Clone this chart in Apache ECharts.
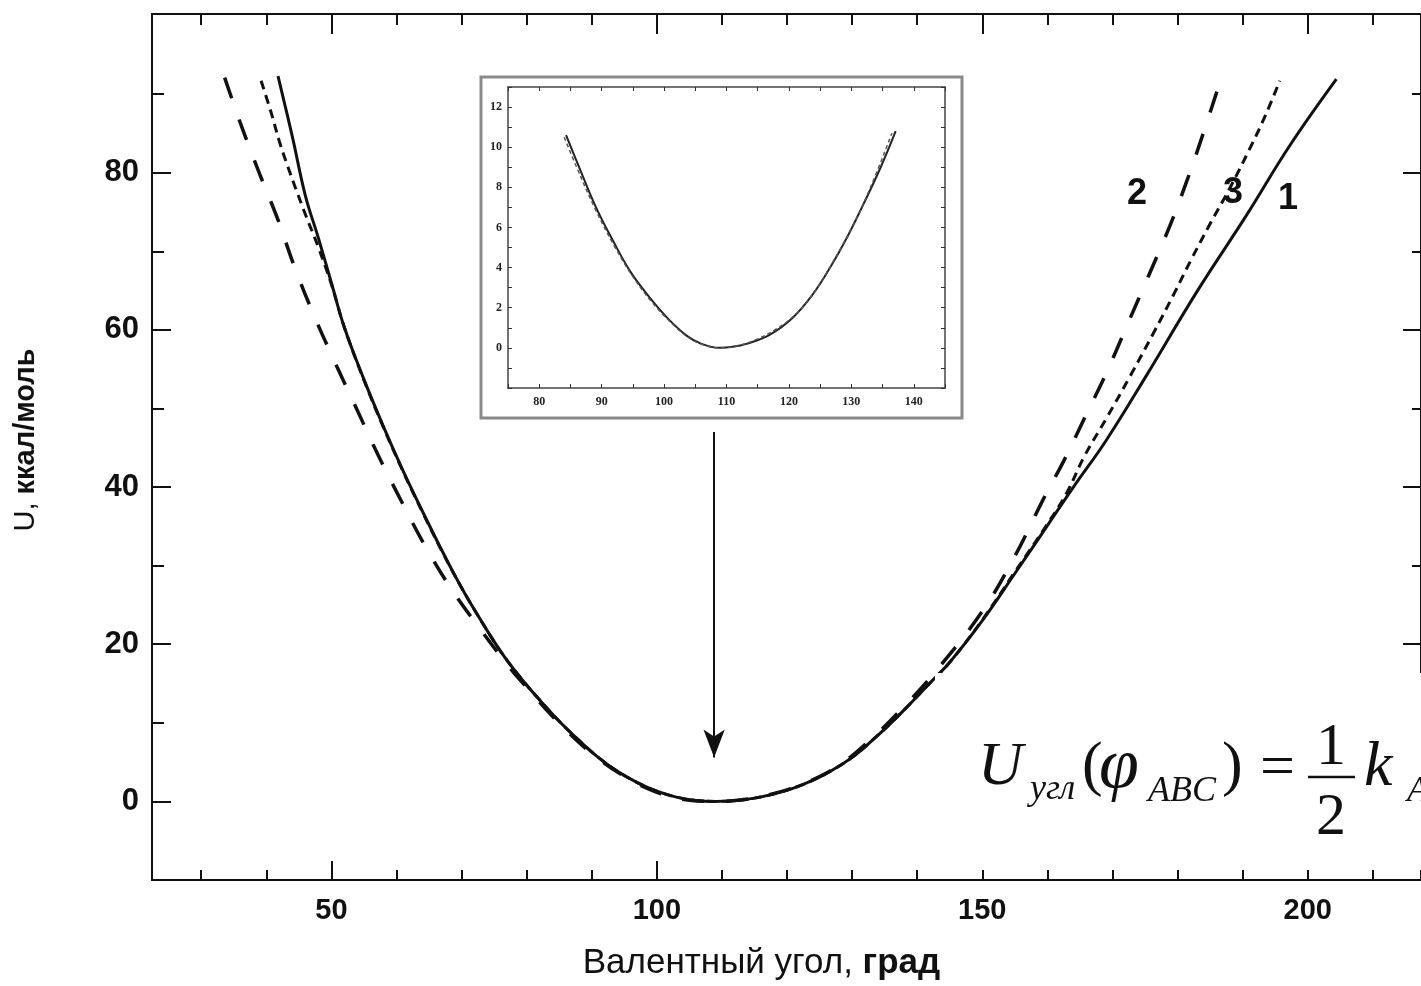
<!DOCTYPE html>
<html>
<head>
<meta charset="utf-8">
<script src="https://cdn.jsdelivr.net/npm/echarts@6/dist/echarts.min.js"></script>
<style>
html,body{margin:0;padding:0;background:#fff;width:1421px;height:986px;overflow:hidden;}
#chart{width:1421px;height:986px;display:block;overflow:hidden;}
</style>
</head>
<body>
<div id="chart"></div>
<script>
// ---- main chart data: valence angle (deg) vs U (kcal/mol) ----
const angles1 = [41.8, 44, 46, 48, 50, 52, 55, 58, 61, 64, 67, 70, 73, 76, 79, 82, 85, 88, 91, 94, 97, 100, 103, 106, 109, 112, 115, 118, 121, 124, 127, 130, 133, 136, 139, 142, 145, 150, 155, 160, 164, 169, 175, 183, 190.6, 197.2, 204.4];
const u1 = [92.3, 84.6, 77.1, 71.7, 66.0, 60.3, 53.7, 47.7, 42.1, 36.9, 31.9, 27.2, 23.0, 19.1, 15.8, 12.9, 10.2, 7.8, 5.6, 3.8, 2.4, 1.3, 0.55, 0.12, 0.0, 0.1, 0.42, 0.96, 1.7, 2.7, 4.0, 5.6, 7.7, 10.0, 12.5, 15.1, 17.7, 23.0, 29.0, 35.1, 40.0, 45.9, 53.9, 64.9, 74.6, 83.4, 91.9];

const angles2 = [33.6, 36.2, 39.0, 41.8, 44.3, 47.4, 50.7, 53.8, 57.1, 60.7, 64.2, 68.3, 72.7, 77.5, 80, 83, 86, 90, 95, 100, 105, 109, 113, 118, 123, 128, 133, 138, 143, 150, 155, 159.4, 162.5, 165.6, 169.1, 172.2, 175.5, 178.8, 181.4, 183.7, 186.5];
const u2 = [92.1, 85.9, 79.8, 74.0, 68.1, 61.7, 55.6, 50.1, 44.2, 38.3, 32.8, 27.2, 22.1, 16.9, 14.5, 11.7, 9.1, 6.1, 3.2, 1.16, 0.15, 0.0, 0.2, 1.0, 2.4, 4.6, 8.0, 12.1, 16.7, 24.2, 31.2, 38.5, 43.3, 48.6, 54.6, 60.5, 66.8, 73.2, 78.9, 84.4, 91.5];

const angles3 = [39.2, 40.8, 42.0, 43.3, 44.6, 46.1, 48, 50, 52, 55, 58, 61, 64, 67, 70, 73, 76, 79, 82, 85, 88, 91, 94, 97, 100, 103, 106, 109, 112, 115, 118, 121, 124, 127, 130, 133, 136, 139, 142, 145, 150, 155, 160, 163, 165.6, 169.1, 172.7, 176.3, 179.4, 182, 185, 188, 191, 193.5, 195.7];
const u3 = [91.7, 87.5, 84.0, 80.8, 77.8, 74.5, 70.5, 65.8, 60.3, 53.6, 47.6, 42.0, 36.8, 31.8, 27.2, 23.0, 19.1, 15.8, 12.9, 10.2, 7.8, 5.6, 3.8, 2.4, 1.3, 0.55, 0.12, 0.0, 0.1, 0.42, 0.96, 1.7, 2.7, 4.0, 5.6, 7.7, 10.0, 12.5, 15.1, 17.7, 23.1, 29.2, 35.3, 39.3, 43.8, 48.8, 54.1, 59.6, 64.5, 68.8, 73.5, 78.0, 82.9, 87.3, 91.7];

// ---- inset data ----
const insetAngles1 = [84.3, 86.4, 89.1, 91.8, 94.5, 97.2, 100.4, 103.6, 106, 108.9, 111, 113.2, 116.9, 120.7, 123.9, 126.6, 129.3, 132.0, 134.7, 137.1];
const insetU1 = [10.6, 9.0, 7.0, 5.35, 3.85, 2.7, 1.53, 0.61, 0.2, 0.0, 0.05, 0.2, 0.65, 1.53, 2.7, 4.0, 5.5, 7.2, 9.0, 10.8];
const insetAngles2 = [84.0, 86.0, 89, 92, 95, 98, 101, 104, 107, 109, 112, 115, 118, 121, 124, 127, 130, 133, 136.5];
const insetU2 = [10.5, 9.0, 6.9, 5.1, 3.55, 2.3, 1.3, 0.5, 0.08, 0.0, 0.12, 0.45, 0.95, 1.65, 2.75, 4.25, 5.95, 7.95, 10.7];

// ---- ticks ----
const xMajor = [50, 100, 150, 200];
const xMinor = [30, 40, 60, 70, 80, 90, 110, 120, 130, 140, 160, 170, 180, 190, 210];
const yMajor = [0, 20, 40, 60, 80];
const yMinor = [10, 30, 50, 70, 90];
const curveLabels = ['1', '2', '3'];

const XMIN = 22.44, XMAX = 217.4, YMIN = -10, YMAX = 100.2;

function pairs(xs, ys){ return xs.map((x,i)=>[x, ys[i]]); }

const C = '#111';
const axLine = {show:true, onZero:false, lineStyle:{color:C, width:2}};
function xAx(pos, vals, len, labels, extra){
  return Object.assign({
    type:'value', gridIndex:0, position:pos, min:XMIN, max:XMAX,
    axisLine: axLine,
    axisTick:{show:true, inside:true, length:len, customValues:vals, lineStyle:{color:C, width:2}},
    axisLabel: labels ? {show:true, customValues:vals, fontSize:29, fontWeight:'bold', color:C, margin:16, fontFamily:'Liberation Sans'} : {show:false},
    splitLine:{show:false}
  }, extra||{});
}
function yAx(pos, vals, len, labels, extra){
  return Object.assign({
    type:'value', gridIndex:0, position:pos, min:YMIN, max:YMAX,
    axisLine: axLine,
    axisTick:{show:true, inside:true, length:len, customValues:vals, lineStyle:{color:C, width:2}},
    axisLabel: labels ? {show:true, customValues:vals, fontSize:31, fontWeight:'bold', color:C, margin:13, fontFamily:'Liberation Sans'} : {show:false},
    splitLine:{show:false}
  }, extra||{});
}
const insetTick = {show:true, inside:true, length:4, lineStyle:{color:'#333', width:1}};
const insetLine = {show:true, onZero:false, lineStyle:{color:'#444', width:1.5}};
const insetLbl = {fontFamily:'Liberation Serif', fontWeight:'bold', fontSize:12, color:'#222'};

const option = {
  animation:false,
  backgroundColor:'#fff',
  grid:[
    {left:152, top:14, width:1273, height:870},
    {left:508, top:87, width:437, height:301}
  ],
  xAxis:[
    xAx('bottom', xMajor, 19, true, {
      name:'{a|Валентный угол, }{b|град}', nameLocation:'middle', nameGap:66,
      nameTextStyle:{padding:[0,50,0,0], rich:{a:{fontSize:35, fontFamily:'Liberation Sans', color:C}, b:{fontSize:35, fontFamily:'Liberation Sans', fontWeight:'bold', color:C}}}
    }),
    xAx('bottom', xMinor, 10, false),
    xAx('top', xMajor, 20, false),
    xAx('top', xMinor, 11, false),
    {type:'value', gridIndex:1, position:'bottom', min:75, max:145, interval:5,
     axisLine:insetLine, axisTick:insetTick, splitLine:{show:false},
     axisLabel:Object.assign({margin:8, formatter:v=> v%10===0 && v>=80 && v<=140 ? String(v) : ''}, insetLbl)},
    {type:'value', gridIndex:1, position:'top', min:75, max:145, interval:5,
     axisLine:insetLine, axisTick:insetTick, splitLine:{show:false}, axisLabel:{show:false}}
  ],
  yAxis:[
    yAx('left', yMajor, 19, true, {
      name:'{a|U, }{b|ккал/моль}', nameLocation:'middle', nameGap:112, nameRotate:90,
      nameTextStyle:{padding:[0,0,0,14], rich:{a:{fontSize:29, fontFamily:'Liberation Sans', color:C}, b:{fontSize:29, fontFamily:'Liberation Sans', fontWeight:'bold', color:C}}}
    }),
    yAx('left', yMinor, 12, false),
    yAx('right', yMajor, 18, false),
    yAx('right', yMinor, 9, false),
    {type:'value', gridIndex:1, position:'left', min:-2, max:13, interval:1,
     axisLine:insetLine, axisTick:insetTick, splitLine:{show:false},
     axisLabel:Object.assign({margin:6, formatter:v=> (v>=0 && v%2===0) ? String(v) : ''}, insetLbl)},
    {type:'value', gridIndex:1, position:'right', min:-2, max:13, interval:1,
     axisLine:insetLine, axisTick:insetTick, splitLine:{show:false}, axisLabel:{show:false}}
  ],
  series:[
    {name:curveLabels[0], type:'line', xAxisIndex:0, yAxisIndex:0, data:pairs(angles1,u1), showSymbol:false, smooth:0.4,
     lineStyle:{color:C, width:3, type:'solid'},
     markLine:{silent:true, symbol:['none','arrow'], symbolSize:[16,28], label:{show:false},
       lineStyle:{color:C, width:2, type:'solid'},
       data:[[{coord:[108.8, 47.0]},{coord:[108.8, 5.6]}]]}},
    {name:curveLabels[1], type:'line', xAxisIndex:0, yAxisIndex:0, data:pairs(angles2,u2), showSymbol:false, smooth:0.4,
     lineStyle:{color:C, width:3.5, type:[22,22]}},
    {name:curveLabels[2], type:'line', xAxisIndex:0, yAxisIndex:0, data:pairs(angles3,u3), showSymbol:false, smooth:0.4,
     lineStyle:{color:C, width:3, type:[9,6]}},
    {type:'line', xAxisIndex:4, yAxisIndex:4, data:pairs(insetAngles1,insetU1), showSymbol:false, smooth:0.4,
     lineStyle:{color:'#222', width:2}},
    {type:'line', xAxisIndex:4, yAxisIndex:4, data:pairs(insetAngles2,insetU2), showSymbol:false, smooth:0.4,
     lineStyle:{color:'#555', width:1.5, type:[4,3]}}
  ],
  graphic:[
    {type:'rect', z:1, shape:{x:481, y:77, width:481, height:341}, style:{fill:'none', stroke:'#8a8a8a', lineWidth:3}},
    {type:'text', z:5, style:{text:'2', x:1137, y:194, textAlign:'center', textVerticalAlign:'middle', font:'bold 36px "Liberation Sans"', fill:C}},
    {type:'text', z:5, style:{text:'3', x:1233, y:193, textAlign:'center', textVerticalAlign:'middle', font:'bold 36px "Liberation Sans"', fill:C}},
    {type:'text', z:5, style:{text:'1', x:1288, y:199, textAlign:'center', textVerticalAlign:'middle', font:'bold 36px "Liberation Sans"', fill:C}},
    {type:'rect', z:100, shape:{x:935, y:673, width:500, height:197}, style:{fill:'#fff', stroke:'none'}},
    {type:'text', z:101, style:{text:'U', x:978, y:768, textVerticalAlign:'middle', font:'italic 62px "Liberation Serif"', fill:C}},
    {type:'text', z:101, style:{text:'угл', x:1030, y:790, textVerticalAlign:'middle', font:'italic 36px "Liberation Serif"', fill:C}},
    {type:'text', z:101, style:{text:'(', x:1082, y:768, textVerticalAlign:'middle', font:'62px "Liberation Serif"', fill:C}},
    {type:'text', z:101, style:{text:'φ', x:1099, y:768, textVerticalAlign:'middle', font:'italic 72px "Liberation Serif"', fill:C}},
    {type:'text', z:101, style:{text:'ABC', x:1148, y:792, textVerticalAlign:'middle', font:'italic 36px "Liberation Serif"', fill:C}},
    {type:'text', z:101, style:{text:')', x:1222, y:768, textVerticalAlign:'middle', font:'62px "Liberation Serif"', fill:C}},
    {type:'text', z:101, style:{text:'=', x:1260, y:770, textVerticalAlign:'middle', font:'62px "Liberation Serif"', fill:C}},
    {type:'text', z:101, style:{text:'1', x:1331, y:748, textAlign:'center', textVerticalAlign:'middle', font:'60px "Liberation Serif"', fill:C}},
    {type:'line', z:101, shape:{x1:1308, y1:777, x2:1355, y2:777}, style:{stroke:C, lineWidth:2.5}},
    {type:'text', z:101, style:{text:'2', x:1331, y:818, textAlign:'center', textVerticalAlign:'middle', font:'60px "Liberation Serif"', fill:C}},
    {type:'text', z:101, style:{text:'k', x:1364, y:768, textVerticalAlign:'middle', font:'italic 64px "Liberation Serif"', fill:C}},
    {type:'text', z:101, style:{text:'AB', x:1407, y:792, textVerticalAlign:'middle', font:'italic 36px "Liberation Serif"', fill:C}}
  ]
};
const chart = echarts.init(document.getElementById('chart'), null, {renderer:'canvas'});
chart.setOption(option);
</script>
</body>
</html>
